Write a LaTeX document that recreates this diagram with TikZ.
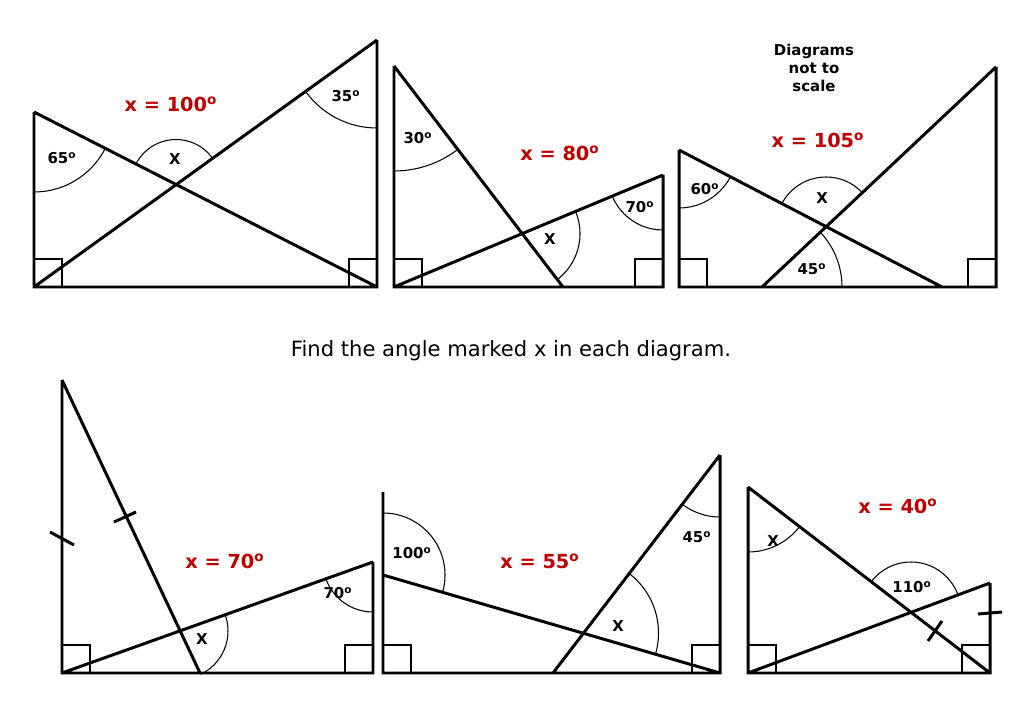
\documentclass[tikz,border=0pt]{standalone}
\usepackage{fontspec}
\setmainfont{DejaVu Sans}
\usetikzlibrary{calc}
\tikzset{
  edge/.style={line width=1.7pt,line join=miter},
  sq/.style={line width=1.1pt},
  ang/.style={line width=0.6pt},
  lab/.style={font=\bfseries\fontsize{8.5}{10}\selectfont},
  ans/.style={font=\bfseries\fontsize{11}{13}\selectfont,text=red!75!black},
}
\newcommand\dg{\textsuperscript{o}}
% angle mark: vertex, point on ray 1, point on ray 2, radius
\newcommand\angmark[4]{%
  \begin{scope}
    \clip (#1) -- ($(#1)!6!(#2)$) -- ($(#1)!6!(#3)$) -- cycle;
    \draw[ang] (#1) circle (#4);
  \end{scope}}
\begin{document}
\begin{tikzpicture}[x=0.02cm,y=-0.02cm]
  % Boundary
  \path[use as bounding box] (0,0) rectangle (1024,709);
  % Diagram 1
  \coordinate (a1) at (34,112); \coordinate (b1) at (34,287);
  \coordinate (c1) at (377,287); \coordinate (d1) at (377,40);
  \coordinate (i1) at (176,184.5);
  \draw[sq] (34,259) rectangle (62,287) (349,259) rectangle (377,287);
  \draw[edge] (a1) -- (b1) -- (c1) -- (d1) (a1) -- (c1) (b1) -- (d1);
  \angmark{a1}{b1}{c1}{80}
  \angmark{d1}{c1}{b1}{88}
  \angmark{i1}{a1}{d1}{45}
  \node[lab] at (62,158) {65\dg};
  \node[lab] at (346,96) {35\dg};
  \node[lab] at (175,159) {X};
  \node[ans] at (171,104) {x = 100\dg};
  % Diagram 2
  \coordinate (a2) at (394,66); \coordinate (b2) at (394,287);
  \coordinate (c2) at (663,287); \coordinate (d2) at (663,175);
  \coordinate (e2) at (563,287); \coordinate (i2) at (522,233.6);
  \draw[sq] (394,259) rectangle (422,287) (635,259) rectangle (663,287);
  \draw[edge] (a2) -- (b2) -- (c2) -- (d2) (a2) -- (e2) (b2) -- (d2);
  \angmark{a2}{b2}{e2}{105}
  \angmark{d2}{c2}{b2}{55}
  \angmark{i2}{e2}{d2}{58}
  \node[lab] at (418,138) {30\dg};
  \node[lab] at (640,207) {70\dg};
  \node[lab] at (550,239) {X};
  \node[ans] at (560,153) {x = 80\dg};
  % Diagram 3
  \coordinate (a3) at (679,150); \coordinate (b3) at (679,287);
  \coordinate (c3) at (996,287); \coordinate (d3) at (996,67);
  \coordinate (e3) at (942,287); \coordinate (f3) at (762,287);
  \coordinate (i3) at (826,227);
  \draw[sq] (679,259) rectangle (707,287) (968,259) rectangle (996,287);
  \draw[edge] (a3) -- (b3) -- (c3) -- (d3) (a3) -- (e3) (f3) -- (d3);
  \angmark{a3}{b3}{e3}{58}
  \angmark{i3}{a3}{d3}{50}
  \angmark{f3}{d3}{e3}{80}
  \node[lab] at (705,189) {60\dg};
  \node[lab] at (822,198) {X};
  \node[lab] at (812,269) {45\dg};
  \node[ans] at (818,140) {x = 105\dg};
  \node[lab,align=center] at (814,68) {Diagrams\\not to\\scale};
  % Title
  \node[font=\fontsize{12}{14}\selectfont] at (511,351) {Find the angle marked x in each diagram.};
  % Diagram 4
  \coordinate (a4) at (62,380); \coordinate (b4) at (62,673);
  \coordinate (c4) at (373,673); \coordinate (d4) at (373,562);
  \coordinate (e4) at (200,673); \coordinate (i4) at (180,631);
  \draw[sq] (62,645) rectangle (90,673) (345,645) rectangle (373,673);
  \draw[edge] (a4) -- (b4) -- (c4) -- (d4) (a4) -- (e4) (b4) -- (d4);
  \draw[edge] (50,532) -- (74,545) (114,522) -- (136,512);
  \angmark{d4}{c4}{b4}{50}
  \angmark{i4}{e4}{d4}{48}
  \node[lab] at (338,593) {70\dg};
  \node[lab] at (202,639) {X};
  \node[ans] at (225,561) {x = 70\dg};
  % Diagram 5
  \coordinate (a5) at (383,492); \coordinate (b5) at (383,673);
  \coordinate (c5) at (720,673); \coordinate (d5) at (720,455);
  \coordinate (e5) at (383,575); \coordinate (f5) at (553,673);
  \coordinate (i5) at (583.5,633);
  \draw[sq] (383,645) rectangle (411,673) (692,645) rectangle (720,673);
  \draw[edge] (a5) -- (b5) -- (c5) -- (d5) (e5) -- (c5) (f5) -- (d5);
  \angmark{e5}{a5}{c5}{62}
  \angmark{d5}{c5}{f5}{62}
  \angmark{i5}{d5}{c5}{75}
  \node[lab] at (412,553) {100\dg};
  \node[lab] at (697,537) {45\dg};
  \node[lab] at (618,626) {X};
  \node[ans] at (540,561) {x = 55\dg};
  % Diagram 6
  \coordinate (a6) at (748,487); \coordinate (b6) at (748,673);
  \coordinate (c6) at (990,673); \coordinate (d6) at (990,583);
  \coordinate (i6) at (911,612);
  \draw[sq] (748,645) rectangle (776,673) (962,645) rectangle (990,673);
  \draw[edge] (a6) -- (b6) -- (c6) -- (d6) (a6) -- (c6) (b6) -- (d6);
  \draw[edge] (928,641) -- (942,621) (978,614) -- (1002,612);
  \angmark{a6}{b6}{c6}{65}
  \angmark{i6}{a6}{d6}{50}
  \node[lab] at (773,541) {X};
  \node[lab] at (912,587) {110\dg};
  \node[ans] at (898,506) {x = 40\dg};
\end{tikzpicture}
\end{document}
